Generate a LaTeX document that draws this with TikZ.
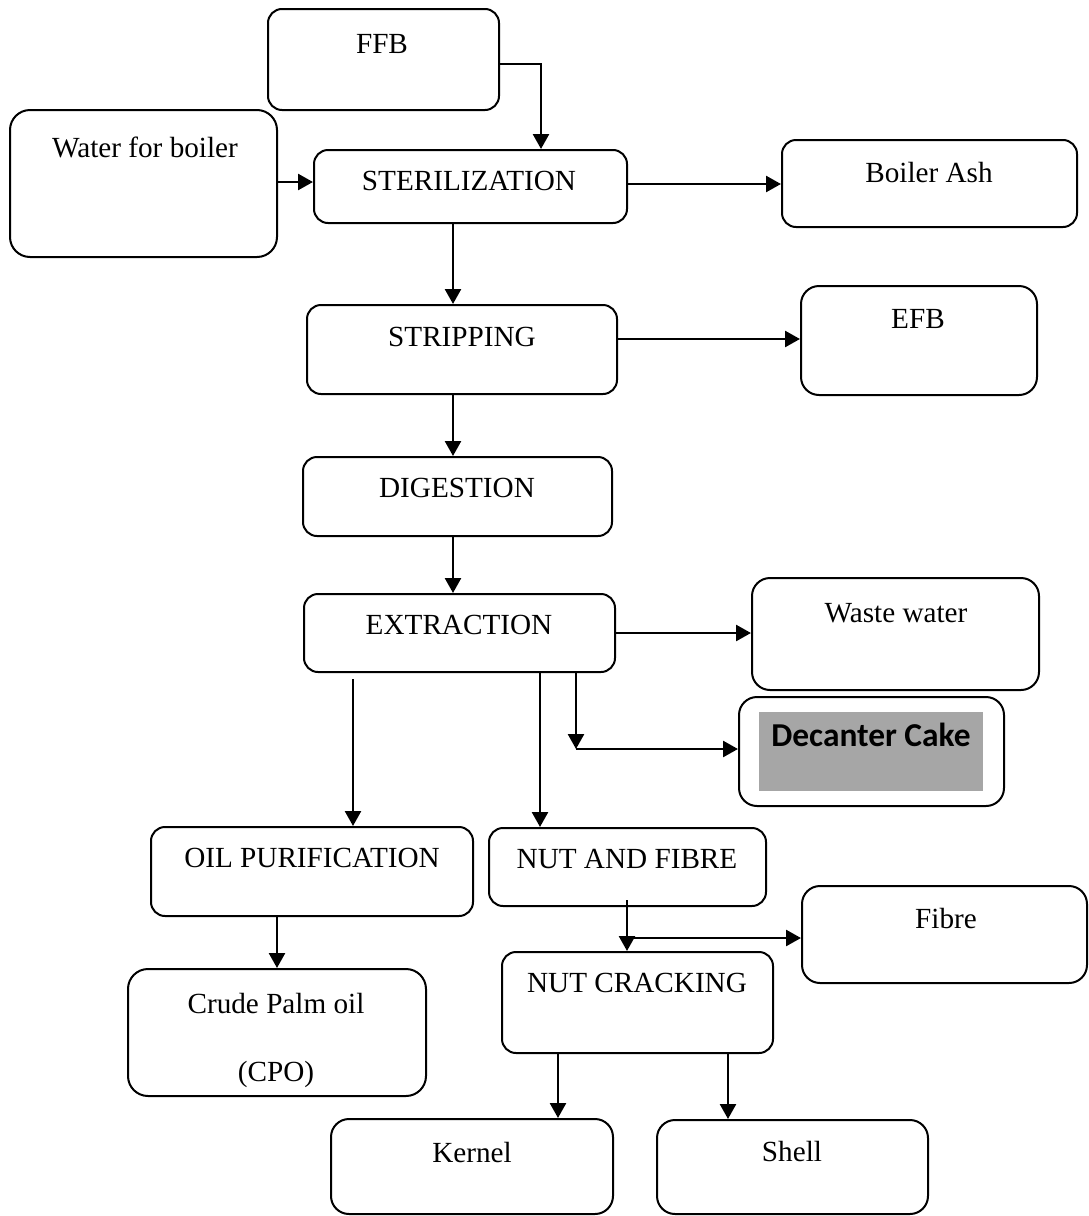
\documentclass[tikz,border=0pt]{standalone}
\usepackage{fontspec}
\setmainfont{Liberation Serif}
\newfontfamily\calfont{Carlito}
\usetikzlibrary{arrows.meta,fit}
\definecolor{cakegrey}{HTML}{A6A6A6}
\tikzset{
  box/.style={draw, line width=1pt, rounded corners=7pt, inner sep=0pt},
  lbl/.style={anchor=base, inner sep=0pt, font=\fontsize{14.6}{17}\selectfont},
  arr/.style={line width=1.3pt, -{Triangle[length=7.5pt,width=8pt]}},
  plain/.style={line width=1.3pt}
}
\begin{document}
\begin{tikzpicture}[x=0.5pt,y=-0.5pt]
\useasboundingbox (0,0) rectangle (1088,1216);
% boxes
\node[box, fit={(268,9) (499,110)}] (ffb) {};
\node[box, fit={(10,110) (277,257)}, rounded corners=10pt] (water) {};
\node[box, fit={(314,150) (627,223)}] (ster) {};
\node[box, fit={(782,140) (1077,227)}] (ash) {};
\node[box, fit={(307,305) (617,394)}] (strip) {};
\node[box, fit={(801,286) (1037,395)}, rounded corners=9pt] (efb) {};
\node[box, fit={(303,457) (612,536)}] (dig) {};
\node[box, fit={(304,594) (615,672)}] (ext) {};
\node[box, fit={(752,578) (1039,690)}, rounded corners=9pt] (waste) {};
\node[box, fit={(739,697) (1004,806)}, rounded corners=9pt] (dec) {};
\node[fill=cakegrey, inner sep=0pt, fit={(759,712) (983,791)}] (decbg) {};
\node[box, fit={(151,827) (473,916)}] (oil) {};
\node[box, fit={(489,828) (766,906)}] (nf) {};
\node[box, fit={(802,886) (1087,983)}, rounded corners=9pt] (fibre) {};
\node[box, fit={(502,952) (773,1053)}] (nc) {};
\node[box, fit={(128,969) (426,1096)}, rounded corners=10pt] (cpo) {};
\node[box, fit={(331,1119) (613,1214)}, rounded corners=9pt] (kernel) {};
\node[box, fit={(657,1120) (928,1214)}, rounded corners=9pt] (shell) {};
% labels
\node[lbl] (tffb) at (382,53) {FFB};
\node[lbl] (twater) at (145,157) {Water for boiler};
\node[lbl] (tster) at (469,190) {STERILIZATION};
\node[lbl] (tash) at (929,182) {Boiler Ash};
\node[lbl] (tstrip) at (462,346) {STRIPPING};
\node[lbl] (tefb) at (918,328) {EFB};
\node[lbl] (tdig) at (457,497) {DIGESTION};
\node[lbl] (text) at (459,634) {EXTRACTION};
\node[lbl] (twaste) at (896,622) {Waste water};
\node[anchor=base, inner sep=0pt, font=\calfont\bfseries\fontsize{16.7}{20}\selectfont] (tdec) at (871,746) {Decanter Cake};
\node[lbl] (toil) at (312,867) {OIL PURIFICATION};
\node[lbl] (tnf) at (627,868) {NUT AND FIBRE};
\node[lbl] (tfibre) at (946,928) {Fibre};
\node[lbl] (tnc) at (637,992) {NUT CRACKING};
\node[lbl] (tcpo1) at (276,1013) {Crude Palm oil};
\node[lbl] (tcpo2) at (276,1081) {(CPO)};
\node[lbl] (tkernel) at (472,1162) {Kernel};
\node[lbl] (tshell) at (792,1161) {Shell};
% connectors
\draw[arr] (ffb.east |- 0,64) -| (ster.north -| 541,0);
\draw[arr] (water.east |- 0,182) -- (ster.west |- 0,182);
\draw[arr] (ster.east |- 0,184) -- (ash.west |- 0,184);
\draw[arr] (ster.south -| 453,0) -- (strip.north -| 453,0);
\draw[arr] (strip.east |- 0,339) -- (efb.west |- 0,339);
\draw[arr] (strip.south -| 453,0) -- (dig.north -| 453,0);
\draw[arr] (dig.south -| 453,0) -- (ext.north -| 453,0);
\draw[arr] (ext.east |- 0,633) -- (waste.west |- 0,633);
\coordinate (dj) at (576,749);
\draw[arr] (ext.south -| dj) -- (dj);
\draw[arr] (dj) -- (dec.west |- dj);
\draw[arr] (ext.south -| 353,0) ++(0,6) -- (oil.north -| 353,0);
\draw[arr] (ext.south -| 540,0) -- (nf.north -| 540,0);
\coordinate (fj) at (627,938);
\draw[arr] ([yshift=3.5pt]nf.south -| fj) -- (nc.north -| fj);
\draw[arr] (fj) -- (fibre.west |- fj);
\draw[arr] (oil.south -| 277,0) -- (cpo.north -| 277,0);
\draw[arr] (nc.south -| 558,0) -- (kernel.north -| 558,0);
\draw[arr] (nc.south -| 728,0) -- (shell.north -| 728,0);
\end{tikzpicture}
\end{document}
